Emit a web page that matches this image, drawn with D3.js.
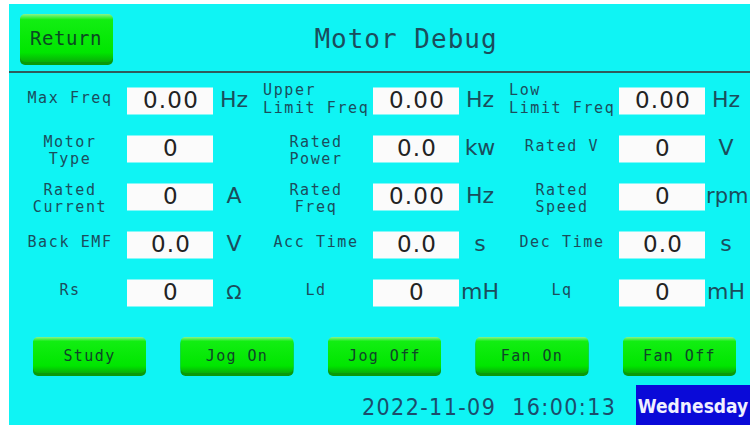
<!DOCTYPE html>
<html>
<head>
<meta charset="utf-8">
<script src="https://cdn.jsdelivr.net/npm/d3@7"></script>
<style>
  body { margin: 0; background: #fff; }
  svg { display: block; }
</style>
</head>
<body>
<div id="screen"></div>
<script>
// parameter grid, row by row
const labels = [
  ["Max Freq"], ["Upper", "Limit Freq"], ["Low", "Limit Freq"],
  ["Motor", "Type"], ["Rated", "Power"], ["Rated V"],
  ["Rated", "Current"], ["Rated", "Freq"], ["Rated", "Speed"],
  ["Back EMF"], ["Acc Time"], ["Dec Time"],
  ["Rs"], ["Ld"], ["Lq"]
];
const values = ["0.00", "0.00", "0.00", "0", "0.0", "0", "0", "0.00", "0", "0.0", "0.0", "0.0", "0", "0", "0"];
const units = ["Hz", "Hz", "Hz", "", "kw", "V", "A", "Hz", "rpm", "V", "s", "s", "Ω", "mH", "mH"];
const buttons = ["Study", "Jog On", "Jog Off", "Fan On", "Fan Off"];
const dateText = "2022-11-09  16:00:13";
const weekday = "Wednesday";

const W = 750, H = 425;
const labelColor = "#1b4d5c";

const svg = d3.select("#screen").append("svg")
  .attr("width", W).attr("height", H);

const defs = svg.append("defs");
const grad = defs.append("linearGradient").attr("id", "btn").attr("x1", 0).attr("y1", 0).attr("x2", 0).attr("y2", 1);
grad.append("stop").attr("offset", "0%").attr("stop-color", "#8af48a");
grad.append("stop").attr("offset", "12%").attr("stop-color", "#12ee12");
grad.append("stop").attr("offset", "80%").attr("stop-color", "#00e600");
grad.append("stop").attr("offset", "100%").attr("stop-color", "#08b008");

svg.append("rect").attr("x", 9).attr("y", 4).attr("width", W - 9).attr("height", H - 4)
  .attr("fill", "#0ff4f4");

// header
function button(g, x, y, w, h) {
  g.append("rect").attr("x", x).attr("y", y + 2).attr("width", w).attr("height", h - 2)
    .attr("rx", 5).attr("fill", "#0a9a0a");
  g.append("rect").attr("x", x).attr("y", y).attr("width", w).attr("height", h - 3)
    .attr("rx", 5).attr("fill", "url(#btn)");
}
const ret = svg.append("g");
button(ret, 20, 14, 93, 51);
ret.append("text").attr("x", 66).attr("y", 45).attr("text-anchor", "middle")
  .attr("font-family", "DejaVu Sans Mono").attr("font-size", 19).attr("letter-spacing", 0.6)
  .attr("fill", "#0a4a22").text("Return");

svg.append("text").attr("x", 406).attr("y", 48).attr("text-anchor", "middle")
  .attr("font-family", "DejaVu Sans Mono").attr("font-size", 26).attr("letter-spacing", 1)
  .attr("fill", "#1b4d5c").text("Motor Debug");

svg.append("line").attr("x1", 9).attr("x2", W).attr("y1", 72).attr("y2", 72)
  .attr("stroke", "#2f5b5b").attr("stroke-width", 2);

// grid scales
const col = d3.scaleLinear().domain([0, 2]).range([127, 619]);
const row = d3.scaleLinear().domain([0, 4]).range([101, 293]);
const boxW = 86, boxH = 27;

const cells = svg.selectAll("g.cell")
  .data(labels.map((l, i) => ({lines: l, value: values[i], unit: units[i], c: i % 3, r: Math.floor(i / 3)})))
  .join("g").attr("class", "cell")
  .attr("transform", d => `translate(${col(d.c)},${row(d.r)})`);

cells.append("rect").attr("x", 0).attr("y", -boxH / 2).attr("width", boxW).attr("height", boxH)
  .attr("fill", "#fbfbfb");

cells.append("text").attr("x", boxW / 2 + 1).attr("y", 7).attr("text-anchor", "middle")
  .attr("font-family", "DejaVu Sans").attr("font-size", 23).attr("letter-spacing", 1.2)
  .attr("fill", "#222").text(d => d.value);

cells.append("text").attr("x", d => d.unit === "rpm" ? boxW + 1 : 107).attr("y", 6)
  .attr("text-anchor", d => d.unit === "rpm" ? "start" : "middle")
  .attr("font-family", "DejaVu Sans").attr("font-size", d => d.unit === "Ω" ? 20 : (d.unit === "rpm" ? 21 : 22))
  .attr("fill", labelColor).text(d => d.unit);

// labels: "Limit Freq" pairs are left aligned, the rest centred
cells.each(function(d) {
  const g = d3.select(this);
  const leftAligned = d.lines[1] === "Limit Freq";
  const t = g.append("text")
    .attr("font-family", "DejaVu Sans Mono").attr("font-size", 15).attr("letter-spacing", 1.6)
    .attr("fill", labelColor)
    .attr("text-anchor", leftAligned ? "start" : "middle");
  const x = leftAligned ? -110 : -57;
  const ys = d.lines.length === 1 ? [2] : (leftAligned ? [-6, 12] : [-2, 15]);
  d.lines.forEach((line, k) => {
    t.append("tspan").attr("x", x).attr("y", ys[k]).text(line);
  });
});

// bottom buttons
const bx = d3.scaleLinear().domain([0, buttons.length - 1]).range([33, 623]);
const bg = svg.selectAll("g.btn").data(buttons).join("g").attr("class", "btn");
bg.each(function(d, i) { button(d3.select(this), bx(i), 337, 113, 39); });
bg.append("text").attr("x", (d, i) => bx(i) + 56.5).attr("y", 361).attr("text-anchor", "middle")
  .attr("font-family", "DejaVu Sans Mono").attr("font-size", 15).attr("letter-spacing", 1.4)
  .attr("fill", "#0f4528").text(d => d);

// date line
svg.append("text").attr("x", 362).attr("y", 415)
  .style("white-space", "pre")
  .attr("font-family", "DejaVu Sans Condensed").attr("font-size", 23).attr("letter-spacing", 1.4)
  .attr("fill", "#1b4d6c").text(dateText);

svg.append("rect").attr("x", 636).attr("y", 385).attr("width", W - 636).attr("height", 40)
  .attr("fill", "#0a0ad8");
svg.append("text").attr("x", 693).attr("y", 413).attr("text-anchor", "middle")
  .attr("font-family", "DejaVu Sans Condensed").attr("font-weight", "bold").attr("font-size", 19)
  .attr("fill", "#f0f0ff").text(weekday);
</script>
</body>
</html>
